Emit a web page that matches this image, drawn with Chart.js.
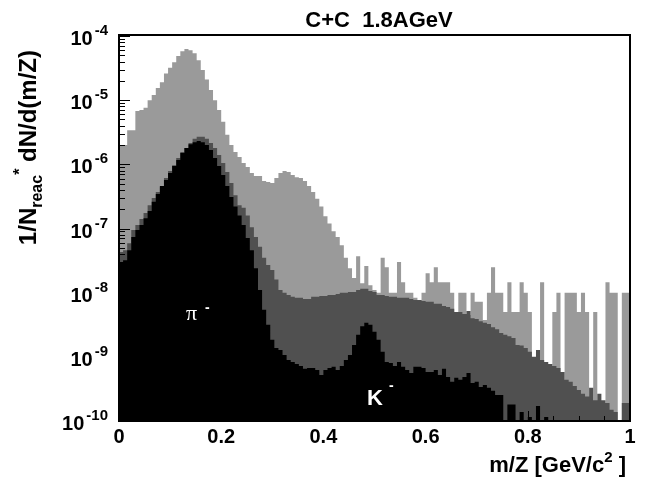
<!DOCTYPE html>
<html>
<head>
<meta charset="utf-8">
<script src="https://cdn.jsdelivr.net/npm/chart.js@4.4.1/dist/chart.umd.min.js"></script>
<style>
  html, body { margin: 0; padding: 0; background: #fff; }
</style>
</head>
<body>
<canvas id="massChart" width="648" height="487"></canvas>
<script>
// m/Z histograms, 125 bins of 0.008 from 0 to 1
const binWidth = 0.008;
const yMin = 1e-10;
const yMax = 1e-4;
const yDecades = [-4, -5, -6, -7, -8, -9, -10];
const xTicks = [0, 0.2, 0.4, 0.6, 0.8, 1];

// light gray: all negative tracks
const lightHist = [
  4.2e-8, 2.0e-6, 2.0e-6, 3.4e-6, 3.4e-6, 6.8e-6, 7.0e-6, 7.6e-6, 1.0e-5, 1.2e-5,
  1.55e-5, 1.9e-5, 2.6e-5, 3.2e-5, 3.9e-5, 4.9e-5, 5.8e-5, 6.3e-5, 6.0e-5, 5.4e-5,
  4.2e-5, 2.95e-5, 2.1e-5, 1.44e-5, 1.0e-5, 7.0e-6, 4.6e-6, 2.9e-6, 2.0e-6, 1.55e-6,
  1.3e-6, 1.05e-6, 9.1e-7, 7.3e-7, 6.6e-7, 6.6e-7, 5.5e-7, 5.3e-7, 5.1e-7, 6.1e-7,
  7.3e-7, 7.9e-7, 7.6e-7, 6.8e-7, 6.3e-7, 6.1e-7, 5.5e-7, 4.6e-7, 3.7e-7, 2.9e-7,
  2.2e-7, 1.55e-7, 1.2e-7, 9.1e-8, 7.4e-8, 5.5e-8, 3.5e-8, 2.4e-8, 1.7e-8, 3.7e-8,
  1.4e-8, 2.6e-8, 1.3e-8, 1.1e-8, 1.0e-8, 3.5e-8, 2.5e-8, 1.0e-8, 1.0e-8, 3.0e-8,
  1.45e-8, 1.0e-8, 1.0e-8, 8.3e-9, 7.7e-9, 1.0e-8, 2.0e-8, 1.45e-8, 2.5e-8, 1.45e-8,
  1.45e-8, 1.45e-8, 1.0e-8, 5.0e-9, 1.0e-8, 1.0e-8, 4.5e-9, 1.0e-8, 7.2e-9, 7.2e-9,
  3.75e-9, 1.0e-8, 2.5e-8, 1.0e-8, 1.0e-8, 5.0e-9, 1.45e-8, 5.0e-9, 5.0e-9, 1.45e-8,
  1.0e-8, 5.0e-9, 0, 0, 1.45e-8, 0, 0, 5.0e-9, 1.0e-8, 0,
  1.0e-8, 1.0e-8, 1.0e-8, 5.0e-9, 1.0e-8, 5.0e-9, 0, 5.0e-9, 0, 0,
  1.45e-8, 1.0e-8, 1.0e-8, 0, 1.0e-8
];

// dark gray
const darkHist = [
  4.2e-8, 4.3e-8, 4.6e-8, 5.9e-8, 9.5e-8, 1.13e-7, 1.4e-7, 1.74e-7, 2.3e-7, 3.0e-7,
  3.7e-7, 4.4e-7, 6.1e-7, 7.9e-7, 9.7e-7, 1.25e-6, 1.55e-6, 1.8e-6, 2.15e-6, 2.5e-6,
  2.7e-6, 2.7e-6, 2.5e-6, 2.15e-6, 1.8e-6, 1.4e-6, 1.05e-6, 7.6e-7, 5.1e-7, 3.3e-7,
  2.3e-7, 2.1e-7, 1.6e-7, 1.05e-7, 7.4e-8, 5.2e-8, 3.5e-8, 2.7e-8, 2.25e-8, 1.6e-8,
  1.1e-8, 1.0e-8, 9.2e-9, 8.6e-9, 8.3e-9, 8.3e-9, 8.0e-9, 8.0e-9, 8.6e-9, 8.6e-9,
  8.9e-9, 8.9e-9, 9.2e-9, 9.2e-9, 9.5e-9, 1.0e-8, 1.0e-8, 1.02e-8, 1.02e-8, 1.1e-8,
  1.15e-8, 1.15e-8, 1.06e-8, 1.02e-8, 9.2e-9, 9.2e-9, 8.9e-9, 8.6e-9, 8.6e-9, 8.3e-9,
  8.3e-9, 8.3e-9, 8.0e-9, 7.7e-9, 7.7e-9, 7.4e-9, 7.2e-9, 7.2e-9, 6.7e-9, 6.7e-9,
  6.2e-9, 6.0e-9, 5.6e-9, 5.0e-9, 5.0e-9, 4.65e-9, 5.2e-9, 4.0e-9, 3.9e-9, 3.6e-9,
  3.4e-9, 3.25e-9, 2.9e-9, 2.7e-9, 2.35e-9, 2.2e-9, 2.1e-9, 1.97e-9, 1.53e-9, 1.5e-9,
  1.37e-9, 1.2e-9, 1.0e-9, 1.28e-9, 8.9e-10, 8.3e-10, 7.75e-10, 7.2e-10, 6.7e-10, 5.8e-10,
  4.4e-10, 4.1e-10, 3.5e-10, 3.05e-10, 2.65e-10, 2.4e-10, 3.3e-10, 2.1e-10, 2.65e-10, 2.1e-10,
  1.9e-10, 1.5e-10, 1.38e-10, 0, 1.9e-10
];

// black: pi- and K- peaks
const blackHist = [
  1.06e-8, 3.0e-8, 3.2e-8, 4.6e-8, 7.4e-8, 9.5e-8, 1.13e-7, 1.45e-7, 1.87e-7, 2.6e-7,
  3.45e-7, 4.6e-7, 5.7e-7, 7.3e-7, 9.4e-7, 1.17e-6, 1.5e-6, 1.8e-6, 2.05e-6, 2.2e-6,
  2.3e-6, 2.2e-6, 2.0e-6, 1.68e-6, 1.25e-6, 9.4e-7, 6.8e-7, 4.6e-7, 3.1e-7, 2.2e-7,
  1.6e-7, 1.13e-7, 7.1e-8, 4.6e-8, 2.4e-8, 1.1e-8, 5.4e-9, 3.15e-9, 1.84e-9, 1.37e-9,
  1.28e-9, 1.07e-9, 8.9e-10, 8.3e-10, 7.75e-10, 7.2e-10, 6.5e-10, 6.7e-10, 6.7e-10, 6.25e-10,
  5.2e-10, 6.25e-10, 6.7e-10, 7.0e-10, 6.25e-10, 7.2e-10, 8.9e-10, 1.07e-9, 1.53e-9, 2.2e-9,
  3.0e-9, 3.4e-9, 3.15e-9, 2.45e-9, 1.84e-9, 1.2e-9, 8.3e-10, 8.0e-10, 7.2e-10, 8.3e-10,
  7.0e-10, 6.25e-10, 5.6e-10, 7.0e-10, 7.0e-10, 6.7e-10, 5.8e-10, 5.8e-10, 6.25e-10, 5.2e-10,
  6.5e-10, 4.85e-10, 4.1e-10, 4.7e-10, 4.4e-10, 4.85e-10, 5.6e-10, 3.9e-10, 4.1e-10, 3.4e-10,
  3.65e-10, 3.3e-10, 2.95e-10, 2.55e-10, 2.55e-10, 0, 1.8e-10, 1.8e-10, 0, 1.38e-10,
  0, 1.15e-10, 0, 1.72e-10, 0, 1.15e-10, 0, 0, 0, 0,
  0, 0, 0, 0, 0, 0, 0, 0, 0, 0,
  0, 0, 0, 0, 0
];

const FONT = '"Liberation Sans", Arial, Helvetica, sans-serif';

// histogram bins -> stepped points; empty bins go below the axis
function toSteps(values) {
  const pts = values.map((v, i) => ({ x: i * binWidth, y: v > 0 ? v : yMin / 100 }));
  pts.push({ x: values.length * binWidth, y: pts[pts.length - 1].y });
  return pts;
}

function histDataset(values, color, order) {
  return {
    data: toSteps(values),
    stepped: "after",
    fill: "start",
    backgroundColor: color,
    borderWidth: 0,
    pointRadius: 0,
    order: order,
  };
}

function drawRich(ctx, parts, x, y) {
  // parts: [text, size, dy]
  let cx = x;
  parts.forEach(([t, size, dy]) => {
    ctx.font = "bold " + size + "px " + FONT;
    ctx.fillText(t, cx, y + dy);
    cx += ctx.measureText(t).width;
  });
  return cx - x;
}

function richWidth(ctx, parts) {
  let w = 0;
  parts.forEach(([t, size]) => {
    ctx.font = "bold " + size + "px " + FONT;
    w += ctx.measureText(t).width;
  });
  return w;
}

const rootFrame = {
  id: "rootFrame",
  afterDraw(chart) {
    const { ctx, chartArea: a, scales } = chart;
    const x = scales.x, y = scales.y;
    ctx.save();
    ctx.strokeStyle = "#000";
    ctx.fillStyle = "#000";

    // y ticks, inside the frame
    ctx.lineWidth = 1;
    ctx.beginPath();
    yDecades.forEach((e) => {
      for (let m = 1; m <= 9; m++) {
        const v = m * Math.pow(10, e);
        if (v > yMax * 1.001) continue;
        const py = Math.round(y.getPixelForValue(v)) + 0.5;
        const len = m === 1 ? 11 : 6;
        ctx.moveTo(a.left, py);
        ctx.lineTo(a.left + len, py);
      }
    });
    // x ticks
    for (let k = 0; k <= 20; k++) {
      const px = Math.round(x.getPixelForValue(k * 0.05)) + 0.5;
      const len = k % 4 === 0 ? 10 : 5;
      ctx.moveTo(px, a.bottom);
      ctx.lineTo(px, a.bottom - len);
    }
    ctx.stroke();

    // frame
    ctx.lineWidth = 2;
    ctx.strokeRect(a.left, a.top - 1, a.right - a.left, a.bottom - a.top + 1);

    // y tick labels 10^n
    ctx.textBaseline = "alphabetic";
    ctx.textAlign = "left";
    yDecades.forEach((e) => {
      const py = y.getPixelForValue(Math.pow(10, e));
      const exp = String(e);
      ctx.font = "bold 15px " + FONT;
      const ew = ctx.measureText(exp).width;
      const ex = 108 - ew;
      ctx.fillText(exp, ex, py - 1);
      ctx.font = "bold 20px " + FONT;
      const bw = ctx.measureText("10").width;
      ctx.fillText("10", ex - 2 - bw, py + 9);
    });

    // title
    ctx.font = "bold 22px " + FONT;
    ctx.textAlign = "center";
    ctx.fillText("C+C  1.8AGeV", 379, 27);

    // x axis title
    ctx.textAlign = "left";
    const xParts = [["m/Z [GeV/c", 22, 0], ["2", 15, -10], [" ]", 22, 0]];
    drawRich(ctx, xParts, 626 - richWidth(ctx, xParts), 472);

    // y axis title, rotated
    const yParts = [["1/N", 24, 0], ["reac", 16, 6], ["*", 16, -11], [" dN/d(m/Z)", 24, 0]];
    const yw = richWidth(ctx, yParts);
    ctx.save();
    ctx.translate(36, 0);
    ctx.rotate(-Math.PI / 2);
    drawRich(ctx, yParts, -50 - yw, 0);
    ctx.restore();

    // particle labels
    ctx.fillStyle = "#fff";
    ctx.font = '22px "Liberation Serif", "DejaVu Serif", serif';
    ctx.fillText("\u03c0", 186, 320);
    ctx.font = "bold 14px " + FONT;
    ctx.fillText("-", 205, 312);
    ctx.font = "bold 22px " + FONT;
    ctx.fillText("K", 367, 405);
    ctx.font = "bold 14px " + FONT;
    ctx.fillText("-", 389, 390);

    ctx.restore();
  },
};

new Chart(document.getElementById("massChart"), {
  type: "line",
  data: {
    datasets: [
      histDataset(lightHist, "#9a9a9a", 3),
      histDataset(darkHist, "#505050", 2),
      histDataset(blackHist, "#000000", 1),
    ],
  },
  options: {
    responsive: false,
    animation: false,
    layout: { padding: { top: 36, right: 18, left: 0, bottom: 0 } },
    plugins: {
      legend: { display: false },
      tooltip: { enabled: false },
      title: { display: false },
    },
    scales: {
      x: {
        type: "linear",
        min: 0,
        max: 1,
        afterBuildTicks: (s) => {
          s.ticks = xTicks.map((v) => ({ value: v }));
        },
        ticks: {
          color: "#000",
          font: { family: FONT, size: 20, weight: "bold" },
          padding: 4,
          maxRotation: 0,
          autoSkip: false,
          callback: (v) => (v === 0 || v === 1 ? String(v) : v.toFixed(1)),
        },
        grid: { display: false, drawTicks: false },
        border: { display: false },
        afterFit: (s) => {
          s.height = 66;
        },
      },
      y: {
        type: "logarithmic",
        min: yMin,
        max: yMax,
        ticks: { display: false },
        grid: { display: false },
        border: { display: false },
        afterFit: (s) => {
          s.width = 119;
        },
      },
    },
  },
  plugins: [rootFrame],
});
</script>
</body>
</html>
